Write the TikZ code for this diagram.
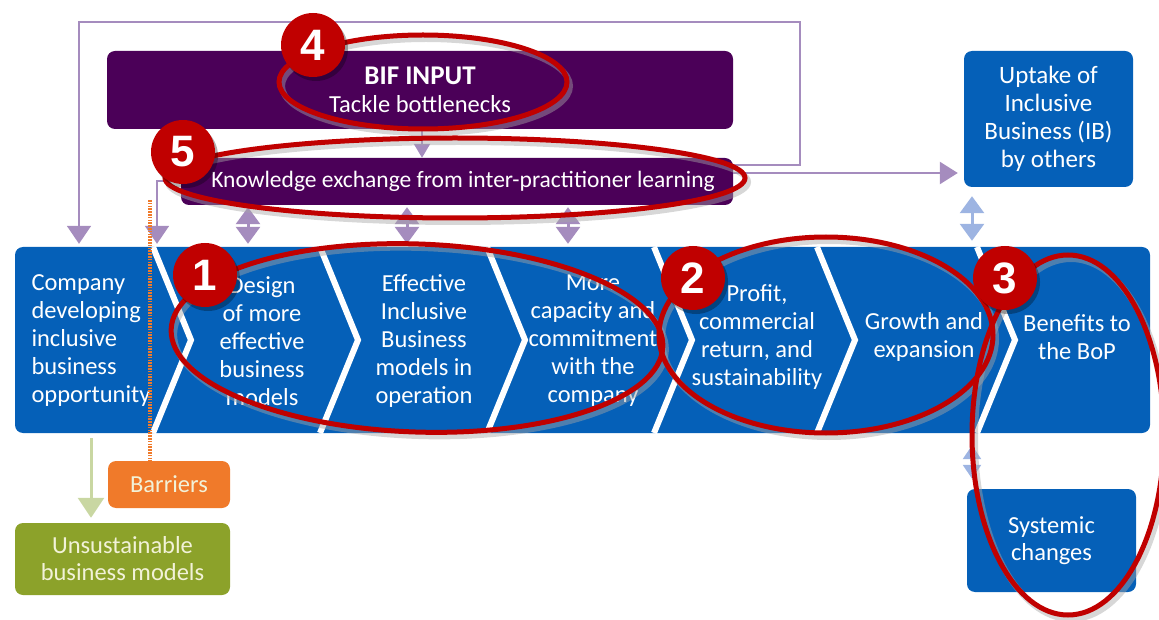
\documentclass[tikz,border=0pt]{standalone}
\usepackage{fontspec}
\setmainfont{Carlito}
\newfontfamily\numfont{Liberation Sans}
\usetikzlibrary{arrows.meta,calc}
\definecolor{bblue}{HTML}{0560B8}
\definecolor{dpurple}{HTML}{4B0058}
\definecolor{lav}{HTML}{A58CBE}
\definecolor{lblue}{HTML}{9DB4E2}
\definecolor{orng}{HTML}{F07A2A}
\definecolor{olive}{HTML}{8CA22A}
\definecolor{lgreen}{HTML}{C9D7A2}
\definecolor{cream}{HTML}{F2F2D8}
\definecolor{rred}{HTML}{C00000}
\tikzset{
  boxb/.style={fill=bblue, rounded corners=8pt, inner sep=0pt, text=white, align=center},
  boxp/.style={fill=dpurple, rounded corners=8pt, inner sep=0pt, text=white, align=center},
  txt/.style={text=white, align=center, inner sep=0pt, font=\fontsize{24.5}{28}\selectfont},
  fb/.style={draw=lav, line width=2pt},
  lavarrow/.style={draw=lav, line width=2pt, -{Triangle[width=24pt,length=18pt]}},
  dbl/.style={line width=3pt, {Triangle[width=24pt,length=17pt]}-{Triangle[width=24pt,length=17pt]}},
  chev/.style={draw=white, line width=6pt},
  redell/.style={draw=rred, line width=5pt},
  shad/.style={draw=black!35, opacity=0.45, line width=6pt},
  numc/.style={circle, fill=rred, minimum size=64pt, inner sep=0pt, text=white, font=\numfont\bfseries\fontsize{44}{44}\selectfont},
}
\begin{document}
\begin{tikzpicture}[x=1pt,y=-1pt]
\useasboundingbox (0,0) rectangle (1159,620);
% main boxes
\node[boxp, minimum width=626pt, minimum height=78pt] (bif) at (420,90) {};
\node[txt] (biftxt) at (420,90) {\fontsize{27}{30}\selectfont\bfseries BIF INPUT\\ \fontsize{24.5}{29}\selectfont Tackle bottlenecks};
\node[boxp, minimum width=552pt, minimum height=47pt] (know) at (457,181.5) {};
\node[txt, font=\fontsize{23.5}{28}\selectfont] (knowtxt) at (463,181.5) {Knowledge exchange from inter-practitioner learning};
\node[boxb, minimum width=169pt, minimum height=136pt, font=\fontsize{25}{28}\selectfont] (uptake) at (1048.5,119) {Uptake of\\Inclusive\\Business (IB)\\by others};
\node[boxb, minimum width=1135pt, minimum height=186pt] (band) at (582.5,340) {};
\node[fill=orng, rounded corners=8pt, minimum width=122pt, minimum height=47pt, text=cream, font=\fontsize{24.5}{28}\selectfont] (barr) at (169,484.5) {Barriers};
\node[fill=olive, rounded corners=8pt, minimum width=215pt, minimum height=72pt, text=cream, align=center, font=\fontsize{24.5}{27}\selectfont] (unsust) at (122.5,559) {Unsustainable\\business models};
\node[boxb, minimum width=169pt, minimum height=103pt, font=\fontsize{24.5}{27}\selectfont] (syst) at (1051.5,540.5) {Systemic\\changes};
% chevrons
\foreach \t in {153,320,487,654,817,977}{
  \draw[chev] (\t,247) -- (\t+38,340) -- (\t,433);
}
% stage texts
\node[txt, align=left] (s0) at (91,341) {Company\\developing\\inclusive\\business\\opportunity};
\node[txt] (s1) at (262,341) {Design\\of more\\effective\\business\\models};
\node[txt] (s2) at (424,341) {Effective\\Inclusive\\Business\\models in\\operation};
\node[txt] (s3) at (593,341) {More\\capacity and\\commitment\\with the\\company};
\node[txt] (s4) at (757,337) {Profit,\\commercial\\return, and\\sustainability};
\node[txt] (s5) at (924,337) {Growth and\\expansion};
\node[txt] (s6) at (1077,337) {Benefits to\\the BoP};
% feedback loop
\coordinate (fbA) at (800,165);
\coordinate (fbB) at (800,22);
\coordinate (fbC) at (79,22);
\draw[fb] (know.east |- fbA) -- (fbA) -- (fbB) -- (fbC) -- ($(fbC |- band.north)+(0,-16)$);
\draw[lavarrow] ($(fbC |- band.north)+(0,-20)$) -- ($(fbC |- band.north)+(0,-3)$);
\coordinate (kL) at (157,181.5);
\draw[fb] (know.west) -- (kL) -- ($(kL |- band.north)+(0,-16)$);
\draw[lavarrow] ($(kL |- band.north)+(0,-20)$) -- ($(kL |- band.north)+(0,-3)$);
% BIF -> knowledge
\coordinate (bk) at (422,0);
\draw[draw=lav, line width=2pt, -{Triangle[width=16pt,length=14pt]}] (bif.south -| bk) -- (know.north -| bk);
% knowledge -> uptake
\coordinate (ku) at (0,173);
\draw[draw=lav, line width=2.5pt, -{Triangle[width=22pt,length=18pt]}] (know.east |- ku) -- ($(uptake.west |- ku)+(-6,0)$);
% double arrows under knowledge
\foreach \xx/\nm in {248/da,407/db,568/dc}{
  \coordinate (\nm) at (\xx,0);
  \draw[dbl, draw=lav, fill=lav] ($(know.south -| \nm)+(0,2)$) -- ($(band.north -| \nm)+(0,-3)$);
}
\coordinate (dr) at (972,0);
\draw[dbl, draw=lblue] ($(uptake.south -| dr)+(0,9)$) -- ($(band.north -| dr)+(0,-6)$);
\draw[line width=2.5pt, draw=lblue, {Triangle[width=18pt,length=14pt]}-{Triangle[width=18pt,length=14pt]}] ($(band.south -| dr)+(0,12)$) -- ($(syst.north -| dr)+(0,-10)$);
% green arrow
\coordinate (ga) at (91,0);
\draw[draw=lgreen, line width=3pt, -{Triangle[width=26pt,length=20pt]}] ($(band.south -| ga)+(0,5)$) -- ($(unsust.north -| ga)+(0,-5)$);
% barriers dotted line
\coordinate (bl) at (150,200);
\draw[draw=orng, line width=3.5pt, dash pattern=on 1.6pt off 1.2pt] (bl) -- (bl |- barr.north);
% red ellipses (with shadows)
\begin{scope}[shift={(3,4)}]
\draw[shad] (423,82) ellipse [x radius=144, y radius=47];
\draw[shad] (455,178) ellipse [x radius=290, y radius=40];
\draw[shad, rotate around={-2:(417,338)}] (417,338) ellipse [x radius=246, y radius=94];
\draw[shad] (826,335) ellipse [x radius=167, y radius=98];
\draw[shad] (1068,435) ellipse [x radius=96, y radius=180];
\end{scope}
\draw[redell] (423,82) ellipse [x radius=144, y radius=47];
\draw[redell] (455,178) ellipse [x radius=290, y radius=40];
\draw[redell, rotate around={-2:(417,338)}] (417,338) ellipse [x radius=246, y radius=94];
\draw[redell] (826,335) ellipse [x radius=167, y radius=98];
\draw[redell] (1068,435) ellipse [x radius=96, y radius=180];
% number circles
\foreach \p/\n/\lab in {{(313,45)}/n4/4,{(183,152)}/n5/5,{(205,275)}/n1/1,{(693,278)}/n2/2,{(1005,278)}/n3/3}{
  \fill[black, opacity=0.3] \p ++(3,4) circle (32);
  \node[numc] (\n) at \p {\lab};
}
\end{tikzpicture}
\end{document}
